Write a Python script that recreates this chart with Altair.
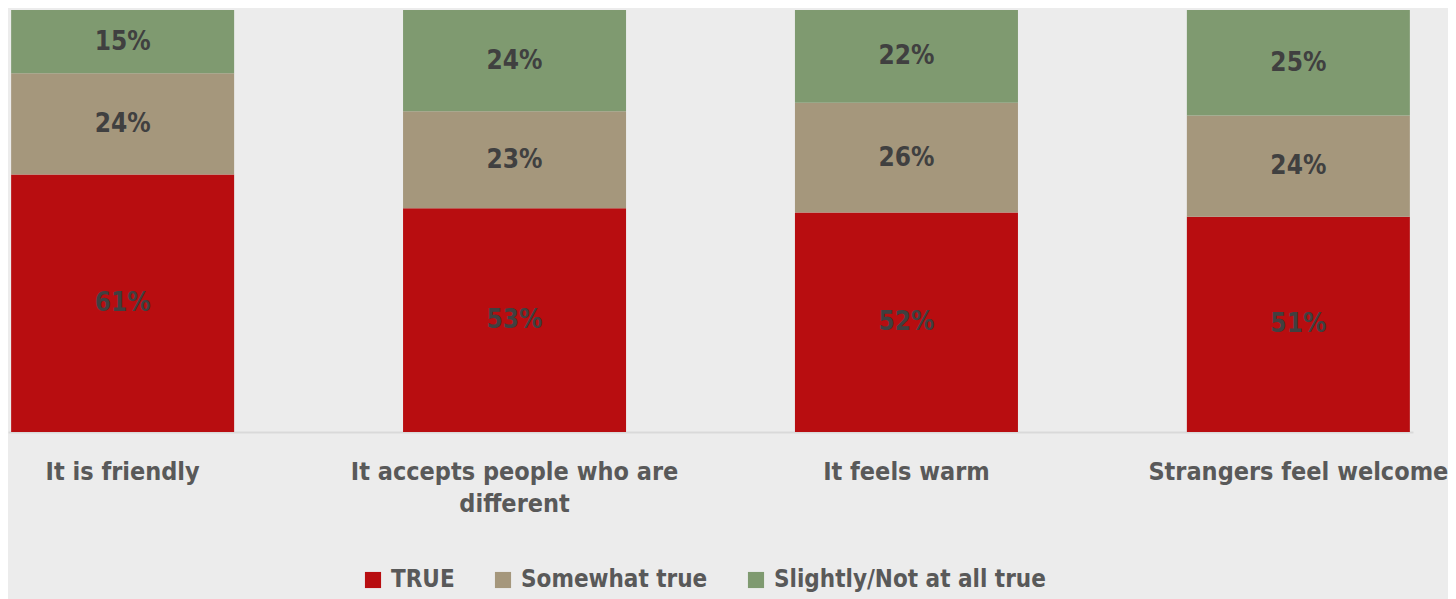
import altair as alt
import pandas as pd

categories = ["It is friendly", "It accepts people who are different", "It feels warm", "Strangers feel welcome"]
series = ["TRUE", "Somewhat true", "Slightly/Not at all true"]
true_vals = [61, 53, 52, 51]
somewhat_vals = [24, 23, 26, 24]
slightly_vals = [15, 24, 22, 25]
colors = ["#b80d10", "#a5977c", "#7f9a70"]

rows = []
for i, c in enumerate(categories):
    for j, (s, vals) in enumerate(zip(series, [true_vals, somewhat_vals, slightly_vals])):
        rows.append({"cat": c, "series": s, "value": vals[i], "ord": j, "label": f"{vals[i]}%"})
df = pd.DataFrame(rows)

FONT = "DejaVu Sans Condensed"

x = alt.X("cat:N", sort=categories, title=None,
          scale=alt.Scale(paddingInner=0.431, paddingOuter=0.008),
          axis=alt.Axis(labelAngle=0, labelFont=FONT, labelFontWeight="bold",
                        labelFontSize=25, labelColor="#595959", labelPadding=27,
                        labelLimit=400, labelOverlap=False, ticks=False,
                        domainColor="#d9d9d9", domainWidth=2, labelLineHeight=32,
                        labelExpr="datum.label == 'It accepts people who are different' ? ['It accepts people who are', 'different'] : datum.label"))

base = alt.Chart(df).transform_stack(
    stack="value", groupby=["cat"], as_=["y0", "y1"], sort=[alt.SortField("ord", "ascending")]
).transform_calculate(mid="(datum.y0 + datum.y1) / 2")

bars = base.mark_bar().encode(
    x=x,
    y=alt.Y("y0:Q", scale=alt.Scale(domain=[0, 100], nice=False), axis=None),
    y2="y1:Q",
    color=alt.Color("series:N", sort=series,
                    scale=alt.Scale(domain=series, range=colors),
                    legend=alt.Legend(title=None, orient="none", direction="horizontal",
                                      legendX=353, legendY=558,
                                      labelFont=FONT, labelFontWeight="bold", labelFontSize=24,
                                      labelColor="#595959", symbolType="square", symbolSize=260,
                                      symbolStrokeWidth=0, columnPadding=36, labelOffset=6,
                                      labelLimit=400)),
)

texts = base.mark_text(font=FONT, fontWeight="bold", fontSize=26, color="#404040").encode(
    x=alt.X("cat:N", sort=categories),
    y=alt.Y("mid:Q"),
    text="label:N",
)

chart = (bars + texts).properties(
    width=1405, height=422,
    autosize=alt.AutoSizeParams(type="none"),
    padding={"left": 0, "top": 2, "right": 35, "bottom": 167},
    background="#ececec",
).configure_view(stroke=None)

chart.save("out.html", embed_options={"renderer": "svg", "actions": False})
